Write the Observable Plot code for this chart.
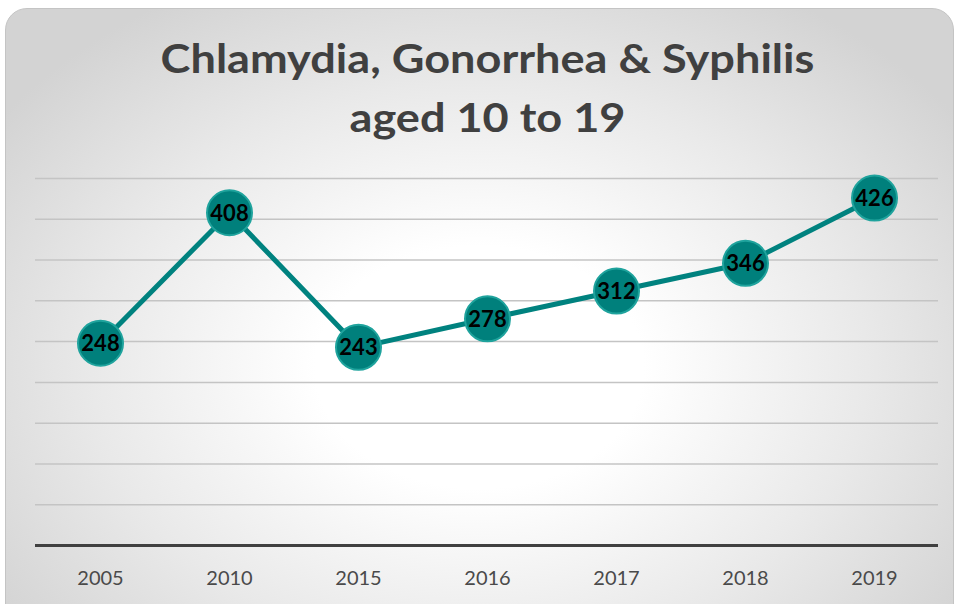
<!DOCTYPE html>
<html><head><meta charset="utf-8">
<script src="https://cdn.jsdelivr.net/npm/d3@7"></script>
<script src="https://cdn.jsdelivr.net/npm/@observablehq/plot@0.6"></script>
<style>
html,body{margin:0;padding:0;background:#fff;width:957px;height:604px;overflow:hidden;}
#wrap{position:relative;width:957px;height:604px;}
#card{position:absolute;left:5px;top:8px;width:949px;height:620px;border-radius:22px;border:1px solid #c4c4c4;box-sizing:border-box;
background:radial-gradient(ellipse 62% 70% at 50% 58%, #ffffff 0%, #ffffff 28%, #e9e9e9 66%, #d3d3d3 100%);}
#title{position:absolute;left:0;top:28px;width:975px;text-align:center;font-family:Lato,"Open Sans",sans-serif;font-weight:700;font-size:41px;line-height:59px;color:#404040;transform:scaleX(1.1);transform-origin:487.5px 0;}
#chart{position:absolute;left:0;top:0;}
</style></head>
<body><div id="wrap"><div id="card"></div>
<div id="title">Chlamydia, Gonorrhea &amp; Syphilis<br>aged 10 to 19</div>
<div id="chart"></div></div>
<script>
const years = ["2005","2010","2015","2016","2017","2018","2019"];
const cases = [248, 408, 243, 278, 312, 346, 426];
const gridTicks = [50,100,150,200,250,300,350,400,450];
const data = years.map((y,i)=>({year:y, value:cases[i]}));
const chart = Plot.plot({
  width: 957, height: 604,
  marginLeft: 35, marginRight: 19, marginTop: 178, marginBottom: 59,
  style: {background: "transparent", overflow: "visible"},
  x: {type: "point", domain: years, padding: 0.5, label: null},
  y: {domain: [0, 450], axis: null},
  marks: [
    Plot.ruleY(gridTicks, {stroke: "#c4c4c4", strokeWidth: 1.5}),
    Plot.ruleY([0], {stroke: "#404040", strokeWidth: 3}),
    Plot.axisX({tickSize: 0, tickPadding: 25, fontSize: 20, fill: "#4a4a4a", fontFamily: "Lato, sans-serif", label: null}),
    Plot.line(data, {x: "year", y: "value", stroke: "#00827f", strokeWidth: 5}),
    Plot.dot(data, {x: "year", y: "value", r: 22.5, fill: "#00807c", stroke: "#1fa39d", strokeWidth: 2}),
    Plot.text(data, {x: "year", y: "value", text: d => String(d.value), fontSize: 22, fontWeight: "bold", fill: "#000", fontFamily: "Lato, sans-serif", dy: 1})
  ]
});
document.getElementById("chart").appendChild(chart);
</script></body></html>
